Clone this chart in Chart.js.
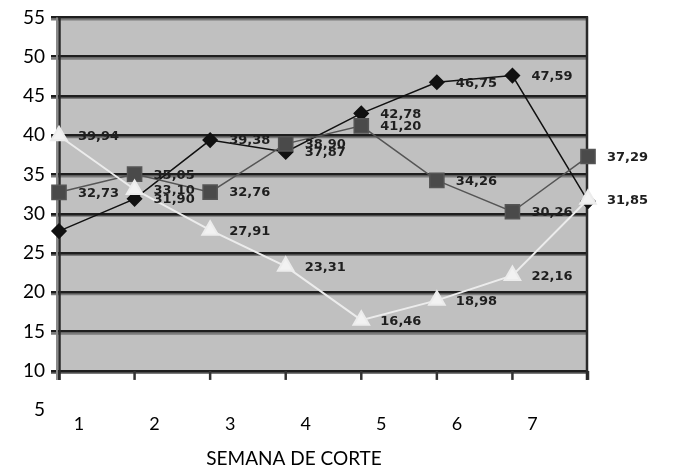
<!DOCTYPE html>
<html>
<head>
<meta charset="utf-8">
<script src="https://cdn.jsdelivr.net/npm/chart.js@4.4.1/dist/chart.umd.min.js"></script>
<style>
  html, body { margin: 0; padding: 0; background: #fff; }
  #wrap { width: 676px; height: 473px; }
</style>
</head>
<body>
<div id="wrap"><canvas id="grafico"></canvas></div>
<script>
// datos
const semanas = ['1', '2', '3', '4', '5', '6', '7', ''];
const serieRombo = [27.8, 31.9, 39.38, 37.87, 42.78, 46.75, 47.59, 31.6];
const serieCuadro = [32.73, 35.05, 32.76, 38.9, 41.2, 34.26, 30.26, 37.29];
const serieTriangulo = [39.94, 33.1, 27.91, 23.31, 16.46, 18.98, 22.16, 31.85];
const ejeMin = 5;
const ejeMax = 55;
const ejePaso = 5;
const fondoDesde = 10; // el area gris empieza en 10

const fmt = (v) => v.toFixed(2).replace('.', ',');

// fondo gris, sombras de la rejilla, ejes verticales y marcas
const marco = {
    id: 'marco',
    beforeDraw(chart) {
        const { ctx, chartArea, scales } = chart;
        const y = scales.y;
        const top = y.getPixelForValue(ejeMax);
        const bot = y.getPixelForValue(fondoDesde);
        ctx.save();
        ctx.fillStyle = '#c0c0c0';
        ctx.fillRect(chartArea.left, top, chartArea.right - chartArea.left, bot - top);
        // sombra gris debajo de cada linea
        ctx.strokeStyle = '#7a7a7a';
        ctx.lineWidth = 2;
        for (let v = fondoDesde; v <= ejeMax; v += ejePaso) {
            const py = y.getPixelForValue(v) + 2;
            ctx.beginPath();
            ctx.moveTo(chartArea.left - 8, py);
            ctx.lineTo(chartArea.right, py);
            ctx.stroke();
        }
        ctx.restore();
    },
    beforeDatasetsDraw(chart) {
        const { ctx, chartArea, scales } = chart;
        const y = scales.y;
        const x = scales.x;
        const top = y.getPixelForValue(ejeMax);
        const bot = y.getPixelForValue(fondoDesde);
        ctx.save();
        // marcas del eje x
        ctx.strokeStyle = '#333';
        ctx.lineWidth = 2.5;
        semanas.forEach((s, i) => {
            const px = x.getPixelForValue(i);
            ctx.beginPath();
            ctx.moveTo(px, bot);
            ctx.lineTo(px, bot + 9);
            ctx.stroke();
        });
        // ejes verticales
        ctx.strokeStyle = '#8a8a8a';
        ctx.lineWidth = 2;
        ctx.beginPath();
        ctx.moveTo(chartArea.left - 2, top);
        ctx.lineTo(chartArea.left - 2, bot + 9);
        ctx.stroke();
        ctx.strokeStyle = '#2a2a2a';
        ctx.lineWidth = 2.5;
        ctx.beginPath();
        ctx.moveTo(chartArea.left + 0.5, top);
        ctx.lineTo(chartArea.left + 0.5, bot + 9);
        ctx.moveTo(chartArea.right - 1, top - 1);
        ctx.lineTo(chartArea.right - 1, bot + 9);
        ctx.stroke();
        ctx.restore();
    },
    afterDatasetsDraw(chart) {
        const { ctx } = chart;
        ctx.save();
        ctx.font = 'bold 13px "DejaVu Sans"';
        ctx.fillStyle = '#1e1e1e';
        ctx.textAlign = 'left';
        ctx.textBaseline = 'middle';
        chart.data.datasets.forEach((ds, di) => {
            const meta = chart.getDatasetMeta(di);
            const omitir = ds.omitirEtiqueta || [];
            meta.data.forEach((pt, i) => {
                if (omitir.includes(i)) return;
                ctx.fillText(fmt(ds.data[i]), pt.x + 19, pt.y + 1);
            });
        });
        ctx.restore();
    }
};

new Chart(document.getElementById('grafico'), {
    type: 'line',
    data: {
        labels: semanas,
        datasets: [
            {
                label: 'Rombo',
                data: serieRombo,
                borderColor: '#111',
                backgroundColor: '#111',
                borderWidth: 1.5,
                pointStyle: 'rectRot',
                pointRadius: 7,
                tension: 0,
                order: 2,
                omitirEtiqueta: [0, 7]
            },
            {
                label: 'Cuadro',
                data: serieCuadro,
                borderColor: '#555',
                backgroundColor: '#4a4a4a',
                borderWidth: 1.5,
                pointStyle: 'rect',
                pointRadius: 10,
                tension: 0,
                order: 1
            },
            {
                label: 'Triangulo',
                data: serieTriangulo,
                borderColor: '#ececec',
                backgroundColor: '#f2f2f2',
                borderWidth: 2,
                pointStyle: 'triangle',
                pointRadius: 9,
                tension: 0,
                order: 0
            }
        ]
    },
    options: {
        responsive: true,
        maintainAspectRatio: false,
        animation: false,
        layout: { padding: { top: 15, right: 88, left: 0, bottom: 0 } },
        plugins: {
            legend: { display: false },
            tooltip: { enabled: false },
            title: {
                display: true,
                position: 'bottom',
                text: 'SEMANA DE CORTE',
                color: '#000',
                padding: { top: 4, bottom: 3 },
                font: { family: 'Lato', size: 19, weight: 'normal' }
            }
        },
        scales: {
            x: {
                type: 'category',
                offset: false,
                grid: { display: false, drawTicks: false },
                border: { display: false },
                ticks: {
                    labelOffset: 20,
                    padding: 3,
                    maxRotation: 0,
                    autoSkip: false,
                    color: '#000',
                    font: { family: 'Lato', size: 18 }
                },
                afterFit: (scale) => { scale.height = 33; }
            },
            y: {
                min: ejeMin,
                max: ejeMax,
                border: { display: false },
                grid: {
                    color: (c) => (c.tick && c.tick.value < fondoDesde) ? 'rgba(0,0,0,0)' : '#1e1e1e',
                    lineWidth: 2.5,
                    tickLength: 8
                },
                ticks: {
                    stepSize: ejePaso,
                    padding: 6,
                    color: '#000',
                    font: { family: 'Lato', size: 19 }
                },
                afterFit: (scale) => { scale.width = 59; }
            }
        }
    },
    plugins: [marco]
});
</script>
</body>
</html>
